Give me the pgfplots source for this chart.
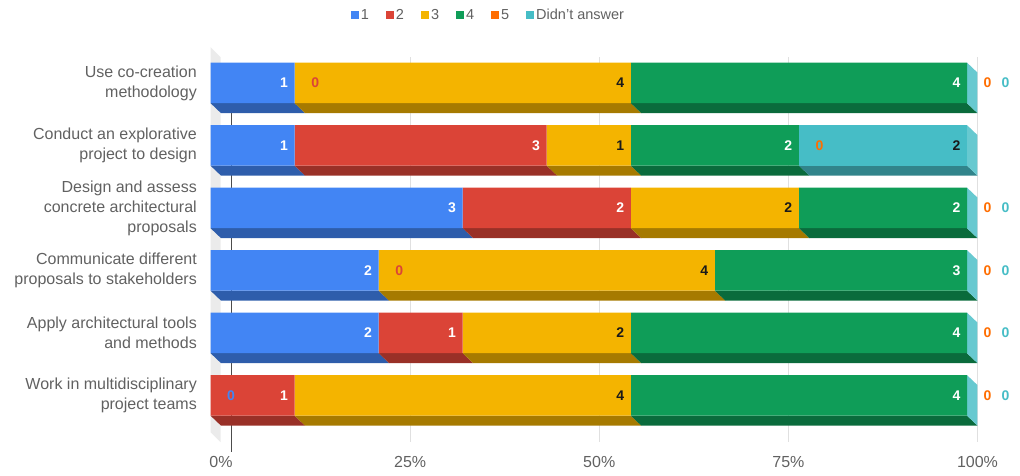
\documentclass[border=0pt]{standalone}
\usepackage{pgfplots}
\pgfplotsset{compat=1.18}
\usepackage{pgfplotstable}
\usepackage{fontspec}
\setmainfont{Liberation Sans}
\definecolor{c1}{HTML}{4285F4}
\definecolor{c2}{HTML}{DB4437}
\definecolor{c3}{HTML}{F4B400}
\definecolor{c4}{HTML}{0F9D58}
\definecolor{c5}{HTML}{FF6D00}
\definecolor{c6}{HTML}{46BDC6}
\colorlet{d1}{c1!70!black}
\colorlet{d2}{c2!70!black}
\colorlet{d3}{c3!68!black}
\colorlet{d4}{c4!68!black}
\colorlet{d6}{c6!70!black}
\colorlet{sidec}{c6!82!white}
\definecolor{wallc}{HTML}{EBEBEB}
\definecolor{labc}{HTML}{616161}
\definecolor{gridc}{HTML}{E0E0E0}
\definecolor{txtdark}{HTML}{1A1A1A}

\pgfplotstableread{
row s1 s2 s3 s4 s5 s6
0 1 0 4 4 0 0
1 1 3 1 2 0 2
2 3 2 2 2 0 0
3 2 0 4 3 0 0
4 2 1 2 4 0 0
5 0 1 4 4 0 0
}\answers

\pgfplotsset{
  common/.style={
    scale only axis, width=756.5pt, height=385pt,
    xmin=0, xmax=9, ymin=-0.574, ymax=5.586, y dir=reverse,
    enlargelimits=false, clip=false,
    at={(210.5pt,43pt)}, anchor=south west,
  },
  seg/.style n args={3}{
    fill=#1, draw=none,
    point meta=explicit symbolic,
    visualization depends on={\thisrow{#3} \as \rawv},
    nodes near coords={\ifnum\pgfplotspointmeta=0\relax\else\textcolor{#2}{\pgfplotspointmeta}\fi},
    nodes near coords style={anchor=east, inner sep=0pt, xshift={\rawv*42.031pt-6.5pt}, font=\fontsize{14}{14}\selectfont\bfseries},
    legend image code/.code={\fill[##1] (0pt,-4pt) rectangle (8pt,4pt);},
  },
  zl/.style n args={2}{
    draw=none, mark=none, nodes near coords={0},
    nodes near coords style={anchor=west, inner sep=0pt, xshift=#2, text=#1, font=\fontsize{14}{14}\selectfont\bfseries},
  },
}
\newcommand\face[7]{\addplot[fill=#1, draw=none] coordinates {(#2,#6) (#3,#6) (#5,#7) (#4,#7)};}
\newcommand\side[4]{\addplot[fill=sidec, draw=none] coordinates {(9,#1) (9.1249,#2) (9.1249,#3) (9,#4)};}

\begin{document}
\begin{tikzpicture}
\useasboundingbox (0pt,0pt) rectangle (1020pt,475pt);
% back plane: wall, grid, depth faces, labels
\begin{axis}[common,
  axis line style={draw=none},
  major tick length=0pt,
  xtick={2.25,4.5,6.75,9}, xticklabels={25\%,50\%,75\%,100\%},
  extra x ticks={0}, extra x tick labels={0\%},
  extra x tick style={major grid style={draw=black!70, line width=1.2pt, xshift=10.5pt, yshift=-10pt}},
  xmajorgrids, major grid style={draw=gridc, line width=1pt, xshift=10.5pt, yshift=-10pt},
  xticklabel style={anchor=north, inner sep=0pt, xshift=10.5pt, yshift=-24.5pt, font=\fontsize{16}{16}\selectfont, text=labc},
  ytick={0,1,2,3,4,5},
  yticklabels={{Use co-creation\\methodology},{Conduct an explorative\\project to design},{Design and assess\\concrete architectural\\proposals},{Communicate different\\proposals to stakeholders},{Apply architectural tools\\and methods},{Work in multidisciplinary\\project teams}},
  yticklabel style={align=right, font=\fontsize{16}{20}\selectfont, text=labc, inner sep=0pt, xshift=-13.5pt},
]
\addplot[fill=wallc, draw=none] coordinates {(0,-0.574) (0.119,-0.414) (0.119,5.746) (0,5.586)};
% bottom faces
\face{d1}{0}{1}{0.1249}{1.1249}{0.324}{0.484}
\face{d3}{1}{5}{1.1249}{5.1249}{0.324}{0.484}
\face{d4}{5}{9}{5.1249}{9.1249}{0.324}{0.484}
\face{d1}{0}{1}{0.1249}{1.1249}{1.324}{1.484}
\face{d2}{1}{4}{1.1249}{4.1249}{1.324}{1.484}
\face{d3}{4}{5}{4.1249}{5.1249}{1.324}{1.484}
\face{d4}{5}{7}{5.1249}{7.1249}{1.324}{1.484}
\face{d6}{7}{9}{7.1249}{9.1249}{1.324}{1.484}
\face{d1}{0}{3}{0.1249}{3.1249}{2.324}{2.484}
\face{d2}{3}{5}{3.1249}{5.1249}{2.324}{2.484}
\face{d3}{5}{7}{5.1249}{7.1249}{2.324}{2.484}
\face{d4}{7}{9}{7.1249}{9.1249}{2.324}{2.484}
\face{d1}{0}{2}{0.1249}{2.1249}{3.324}{3.484}
\face{d3}{2}{6}{2.1249}{6.1249}{3.324}{3.484}
\face{d4}{6}{9}{6.1249}{9.1249}{3.324}{3.484}
\face{d1}{0}{2}{0.1249}{2.1249}{4.324}{4.484}
\face{d2}{2}{3}{2.1249}{3.1249}{4.324}{4.484}
\face{d3}{3}{5}{3.1249}{5.1249}{4.324}{4.484}
\face{d4}{5}{9}{5.1249}{9.1249}{4.324}{4.484}
\face{d2}{0}{1}{0.1249}{1.1249}{5.324}{5.484}
\face{d3}{1}{5}{1.1249}{5.1249}{5.324}{5.484}
\face{d4}{5}{9}{5.1249}{9.1249}{5.324}{5.484}
% right side faces
\side{-0.324}{-0.164}{0.484}{0.324}
\side{0.676}{0.836}{1.484}{1.324}
\side{1.676}{1.836}{2.484}{2.324}
\side{2.676}{2.836}{3.484}{3.324}
\side{3.676}{3.836}{4.484}{4.324}
\side{4.676}{4.836}{5.484}{5.324}
\end{axis}
% front plane: stacked bars
\begin{axis}[common, hide axis,
  xbar stacked, bar width=40.5pt,
  legend style={at={(axis description cs:0.3675,1.083)}, anchor=center, draw=none, fill=none,
    font=\fontsize{14.5}{14.5}\selectfont, text=labc, inner sep=0pt,
    /tikz/every even column/.append style={column sep=15pt}},
  legend columns=-1,
]
\addplot[seg={c1}{white}{s1}] table[x=s1, y=row, meta=s1] {\answers};
\addlegendentry{1}
\addplot[seg={c2}{white}{s2}] table[x=s2, y=row, meta=s2] {\answers};
\addlegendentry{2}
\addplot[seg={c3}{txtdark}{s3}] table[x=s3, y=row, meta=s3] {\answers};
\addlegendentry{3}
\addplot[seg={c4}{white}{s4}] table[x=s4, y=row, meta=s4] {\answers};
\addlegendentry{4}
\addplot[seg={c5}{white}{s5}] table[x=s5, y=row, meta=s5] {\answers};
\addlegendentry{5}
\addplot[seg={c6}{txtdark}{s6}] table[x=s6, y=row, meta=s6] {\answers};
\addlegendentry{Didn't answer}
\end{axis}
% zero-answer labels (placed at the end of the empty segment)
\begin{axis}[common, hide axis]
\addplot[zl={c1}{16.5pt}] coordinates {(0,5)};
\addplot[zl={c2}{16.5pt}] coordinates {(1,0) (2,3)};
\addplot[zl={c5}{16.5pt}] coordinates {(9,0) (7,1) (9,2) (9,3) (9,4) (9,5)};
\addplot[zl={c6}{34.5pt}] coordinates {(9,0) (9,2) (9,3) (9,4) (9,5)};
\end{axis}
\end{tikzpicture}
\end{document}
